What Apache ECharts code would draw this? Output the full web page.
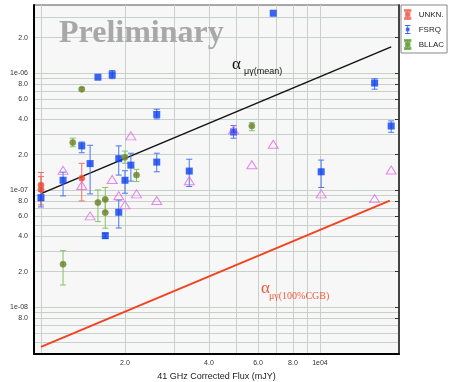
<!DOCTYPE html>
<html>
<head>
<meta charset="utf-8">
<script src="https://cdn.jsdelivr.net/npm/echarts@6/dist/echarts.min.js"></script>
<style>
  html, body { margin: 0; padding: 0; background: #fff; }
  #chart { width: 451px; height: 382px; }
</style>
</head>
<body>
<div id="chart"></div>
<script>
// axis ticks / labels
const xTickValues = [2000, 4000, 6000, 8000, 10000];
const xTickLabels = ['2.0', '4.0', '6.0', '8.0', '1e04'];
const xGridValues = [1000, 2000, 3000, 4000, 5000, 6000, 7000, 8000, 9000, 10000];

const yTickValues = [2e-6, 1e-6, 8e-7, 6e-7, 4e-7, 2e-7, 1e-7, 8e-8, 6e-8, 4e-8, 2e-8, 1e-8, 8e-9];
const yTickLabels = ['2.0', '1e-06', '8.0', '6.0', '4.0', '2.0', '1e-07', '8.0', '6.0', '4.0', '2.0', '1e-08', '8.0'];
const yGridValues = [3e-6, 2e-6, 1e-6, 9e-7, 8e-7, 7e-7, 6e-7, 5e-7, 4e-7, 3e-7, 2e-7,
  1e-7, 9e-8, 8e-8, 7e-8, 6e-8, 5e-8, 4e-8, 3e-8, 2e-8,
  1e-8, 9e-9, 8e-9, 7e-9, 6e-9, 5e-9];

// UNKN.
const unknX = [1000, 1000, 1400];
const unknY = [1.10e-7, 1.01e-7, 1.26e-7];
const unknLo = [8.05e-8, 7.45e-8, 8.05e-8];
const unknHi = [1.41e-7, 1.30e-7, 1.69e-7];

// FSRQ
const fsrqX = [1000, 1200, 1400, 1500, 1600, 1800, 1900, 2000, 2100, 1900, 1700, 2600, 2600, 3400, 4900, 6800, 10100, 15700, 18000];
const fsrqY = [8.6e-8, 1.21e-7, 2.38e-7, 1.68e-7, 9.2e-7, 9.67e-7, 1.85e-7, 1.21e-7, 1.63e-7, 6.45e-8, 4.07e-8, 1.73e-7, 4.42e-7, 1.45e-7, 3.13e-7, 3.24e-6, 1.43e-7, 8.2e-7, 3.52e-7];
const fsrqLo = [7.16e-8, 8.9e-8, 2.08e-7, 9.25e-8, null, 8.94e-7, 1.34e-7, 9.37e-8, 1.19e-7, 4.73e-8, 3.84e-8, 1.43e-7, 4.05e-7, 1.07e-7, 2.77e-7, null, 1.05e-7, 7.26e-7, 3.11e-7];
const fsrqHi = [9.7e-8, 1.42e-7, 2.57e-7, 2.41e-7, null, 1.05e-6, 2.38e-7, 1.46e-7, 2.06e-7, 8.2e-8, 4.26e-8, 2.06e-7, 4.9e-7, 1.83e-7, 3.55e-7, null, 1.80e-7, 8.94e-7, 3.89e-7];

// BLLAC
const bllacX = [1200, 1300, 1400, 1600, 1700, 1700, 2000, 2200, 5700];
const bllacY = [2.32e-8, 2.54e-7, 7.26e-7, 7.8e-8, 8.3e-8, 6.4e-8, 1.9e-7, 1.34e-7, 3.52e-7];
const bllacLo = [1.54e-8, 2.34e-7, 7.0e-7, 5.36e-8, 6.53e-8, 4.71e-8, 1.69e-7, 1.18e-7, 3.21e-7];
const bllacHi = [3.03e-8, 2.77e-7, 7.5e-7, 1.0e-7, 1.05e-7, 8.2e-8, 2.15e-7, 1.50e-7, 3.76e-7];

// open triangles
const triX = [1200, 1400, 1500, 1800, 1900, 2000, 2100, 2200, 2600, 3400, 4900, 5700, 6800, 10100, 15700, 18000];
const triY = [1.47e-7, 1.09e-7, 6.0e-8, 1.23e-7, 8.93e-8, 7.45e-8, 2.9e-7, 9.25e-8, 8.13e-8, 1.2e-7, 3.26e-7, 1.64e-7, 2.46e-7, 9.25e-8, 8.43e-8, 1.48e-7];

// reference lines
const meanLineX = [1000, 18000];
const meanLineY = [9.3e-8, 1.67e-6];
const cgbLineX = [1000, 17800];
const cgbLineY = [4.55e-9, 8.1e-8];

const font = '"Liberation Sans", Arial, sans-serif';

const pts = (xs, ys) => xs.map((x, i) => [x, ys[i]]);
const bars = (xs, lo, hi) => xs.map((x, i) => [x, lo[i], hi[i]]).filter(d => d[1] != null);

function labelFor(values, labels) {
  return function (v) {
    for (let i = 0; i < values.length; i++) {
      if (Math.abs(Math.log10(v) - Math.log10(values[i])) < 0.005) return labels[i];
    }
    return '';
  };
}

function errorBars(name, data, color) {
  return {
    type: 'custom',
    name: name,
    data: data,
    encode: { x: 0, y: [1, 2] },
    z: 2,
    silent: true,
    itemStyle: { color: color },
    renderItem: function (params, api) {
      const lo = api.coord([api.value(0), api.value(1)]);
      const hi = api.coord([api.value(0), api.value(2)]);
      const w = 3;
      const st = { stroke: color, lineWidth: 1 };
      return {
        type: 'group',
        children: [
          { type: 'line', shape: { x1: lo[0], y1: lo[1], x2: hi[0], y2: hi[1] }, style: st },
          { type: 'line', shape: { x1: lo[0] - w, y1: lo[1], x2: lo[0] + w, y2: lo[1] }, style: st },
          { type: 'line', shape: { x1: hi[0] - w, y1: hi[1], x2: hi[0] + w, y2: hi[1] }, style: st }
        ]
      };
    }
  };
}

// small error-bar glyph for the legend
const legendIcon = 'path://M1 0H7V1H1Z M3.5 1H4.5V3H3.5Z M2 3H6V7H2Z M3.5 7H4.5V9H3.5Z M1 9H7V10H1Z';

const chart = echarts.init(document.getElementById('chart'));

const option = {
  animation: false,
  grid: {
    left: 34, top: 5, right: 52, bottom: 28,
    containLabel: false,
    outerBoundsMode: 'none',
    show: true,
    backgroundColor: '#f7f7f7',
    borderColor: '#555',
    borderWidth: 1
  },
  legend: {
    data: ['UNKN.', 'FSRQ', 'BLLAC'],
    icon: legendIcon,
    orient: 'vertical',
    left: 401,
    top: 5,
    itemWidth: 6,
    itemHeight: 9,
    itemGap: 5,
    padding: [4, 3, 3, 3],
    backgroundColor: '#fff',
    borderColor: '#888',
    borderWidth: 1,
    textStyle: { fontFamily: font, fontSize: 8, color: '#222', padding: [0, 0, 0, 3] }
  },
  xAxis: {
    type: 'log',
    min: 944,
    max: 19200,
    name: '41 GHz Corrected Flux (mJY)',
    nameLocation: 'middle',
    nameGap: 18,
    nameTextStyle: { fontFamily: font, fontSize: 9, color: '#222' },
    axisLine: { show: true, lineStyle: { color: '#000', width: 2 } },
    axisTick: { show: false, customValues: xGridValues },
    axisLabel: {
      customValues: xTickValues,
      formatter: labelFor(xTickValues, xTickLabels),
      fontFamily: font, fontSize: 7, color: '#333', margin: 6
    },
    splitLine: { show: true, lineStyle: { color: '#c9d0c9', width: 1 } }
  },
  yAxis: [{
    type: 'log',
    min: 3.96e-9,
    max: 3.81e-6,
    name: 'Gamma Flux(>100 MeV) (Ph cm-2 s-1)',
    nameLocation: 'middle',
    nameGap: 24,
    nameTextStyle: { fontFamily: font, fontSize: 8, color: '#222' },
    axisLine: { show: true, lineStyle: { color: '#000', width: 2 } },
    axisTick: { show: false, customValues: yGridValues },
    axisLabel: {
      customValues: yTickValues,
      formatter: labelFor(yTickValues, yTickLabels),
      fontFamily: font, fontSize: 7, color: '#333', margin: 6
    },
    splitLine: { show: true, lineStyle: { color: '#c9d0c9', width: 1 } }
  }, {
    type: 'log',
    min: 3.96e-9,
    max: 3.81e-6,
    position: 'right',
    axisLine: { show: true, lineStyle: { color: '#444', width: 2 } },
    axisTick: { show: true, inside: true, length: 4, customValues: yTickValues, lineStyle: { color: '#333' } },
    axisLabel: { show: false },
    splitLine: { show: false }
  }],
  graphic: [
    { type: 'text', left: 59, top: 18, z: 1,
      style: { text: 'Preliminary', font: 'bold 32px "Liberation Serif", serif', fill: '#a8a8a8' } },
    { type: 'text', left: 232, top: 56, z: 10,
      style: { text: 'α', font: '17px "Liberation Serif", serif', fill: '#111' } },
    { type: 'text', left: 244, top: 67, z: 10,
      style: { text: 'μγ(mean)', font: '9px "Liberation Sans", sans-serif', fill: '#111' } },
    { type: 'text', left: 261, top: 280, z: 10,
      style: { text: 'α', font: '17px "Liberation Serif", serif', fill: '#f05a3c' } },
    { type: 'text', left: 269, top: 291, z: 10,
      style: { text: 'μγ(100%CGB)', font: '10px "Liberation Serif", serif', fill: '#f05a3c' } }
  ],
  series: [
    {
      type: 'line', name: 'mean', data: pts(meanLineX, meanLineY),
      symbol: 'none', silent: true, z: 1,
      lineStyle: { color: '#111', width: 1.5 }
    },
    {
      type: 'line', name: 'cgb', data: pts(cgbLineX, cgbLineY),
      symbol: 'none', silent: true, z: 1,
      lineStyle: { color: '#f04422', width: 2 }
    },
    errorBars('UNKN. err', bars(unknX, unknLo, unknHi), '#f07060'),
    errorBars('FSRQ err', bars(fsrqX, fsrqLo, fsrqHi), '#4a78f0'),
    errorBars('BLLAC err', bars(bllacX, bllacLo, bllacHi), '#86c466'),
    {
      type: 'scatter', name: 'UNKN.', data: pts(unknX, unknY), z: 3,
      symbol: 'circle', symbolSize: 6,
      itemStyle: { color: '#e8402a', borderColor: '#f07060', borderWidth: 1 }
    },
    {
      type: 'scatter', name: 'FSRQ', data: pts(fsrqX, fsrqY), z: 3,
      symbol: 'rect', symbolSize: 7,
      itemStyle: { color: '#0a3ef0' }
    },
    {
      type: 'scatter', name: 'BLLAC', data: pts(bllacX, bllacY), z: 3,
      symbol: 'circle', symbolSize: 6,
      itemStyle: { color: '#7d7428', borderColor: '#62a842', borderWidth: 1 }
    },
    {
      type: 'scatter', name: 'other', data: pts(triX, triY), z: 4,
      symbol: 'triangle', symbolSize: [10, 8],
      itemStyle: { color: 'rgba(0,0,0,0)', borderColor: '#e266ea', borderWidth: 1 }
    }
  ]
};

chart.setOption(option);
</script>
</body>
</html>
